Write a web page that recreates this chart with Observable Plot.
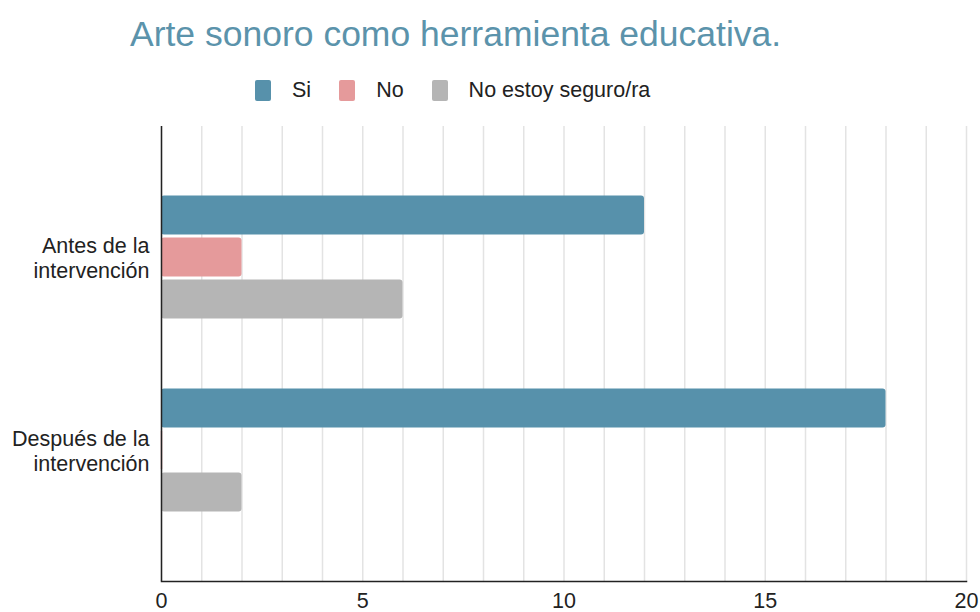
<!DOCTYPE html>
<html>
<head>
<meta charset="utf-8">
<script src="https://cdn.jsdelivr.net/npm/d3@7"></script>
<script src="https://cdn.jsdelivr.net/npm/@observablehq/plot@0.6"></script>
<style>
  html, body { margin: 0; padding: 0; background: #fff; }
  #wrap { position: relative; width: 980px; height: 612px; overflow: hidden; font-family: "Liberation Sans", Arial, sans-serif; }
  #title { position: absolute; left: 130px; top: 12px; font-size: 35.5px; line-height: 44px; color: #5b93ab; white-space: nowrap; }
  #legend { position: absolute; left: 255px; top: 76px; height: 28px; display: flex; align-items: center; font-size: 21.5px; color: #222; white-space: nowrap; }
  .sw { display: inline-block; width: 16px; height: 21px; border-radius: 2px; margin-right: 21px; }
  .it { display: flex; align-items: center; margin-right: 28px; }
  #chart { position: absolute; left: 0; top: 0; }
  #chart svg text { font-family: "Liberation Sans", Arial, sans-serif !important; font-size: 21.5px !important; fill: #222; }
</style>
</head>
<body>
<div id="wrap">
  <div id="chart"></div>
  <div id="title"></div>
  <div id="legend"></div>
</div>
<script>
const titleText = "Arte sonoro como herramienta educativa.";
const groups = ["Antes de la intervención", "Después de la intervención"];
const groupLabels = ["Antes de la\nintervención", "Después de la\nintervención"];
const seriesNames = ["Si", "No", "No estoy seguro/ra"];
const seriesColors = ["#5791ab", "#e59a9b", "#b5b5b5"];
const valuesSi = [12, 18];
const valuesNo = [2, 0];
const valuesNoSeguro = [6, 2];
const xTicks = [0, 5, 10, 15, 20];
const xGrid = d3.range(0, 21, 1);

const seriesValues = [valuesSi, valuesNo, valuesNoSeguro];
const rows = [];
seriesNames.forEach((s, i) => groups.forEach((g, j) => rows.push({group: g, series: s, value: seriesValues[i][j]})));

document.getElementById("title").textContent = titleText;
const legend = document.getElementById("legend");
seriesNames.forEach((s, i) => {
  const it = document.createElement("span");
  it.className = "it";
  const sw = document.createElement("span");
  sw.className = "sw";
  sw.style.background = seriesColors[i];
  it.appendChild(sw);
  it.appendChild(document.createTextNode(s));
  legend.appendChild(it);
});

const offsets = [-42, 0, 42];
const labelOf = new Map(groups.map((g, i) => [g, groupLabels[i]]));

const plot = Plot.plot({
  width: 980,
  height: 612,
  marginTop: 126,
  marginBottom: 31,
  marginLeft: 161,
  marginRight: 14,
  style: {fontFamily: "'Liberation Sans', Arial, sans-serif", fontSize: "21.5px", color: "#222", background: "transparent"},
  x: {domain: [0, 20], ticks: xTicks},
  y: {domain: groups, paddingInner: 0.793, paddingOuter: 0.5725},
  marks: [
    Plot.ruleX(xGrid, {stroke: "#e3e3e3", strokeWidth: 1.5}),
    ...seriesNames.map((s, i) => Plot.barX(rows.filter(d => d.series === s), {
      x: "value", y: "group", fill: seriesColors[i], dy: offsets[i], insetTop: 0.5, insetBottom: 0.5, rx: 3
    })),
    Plot.tickX(rows.filter(d => d.value === 0), {x: "value", y: "group", stroke: d => seriesColors[seriesNames.indexOf(d.series)], dy: 0, strokeWidth: 1.5, insetTop: 1, insetBottom: 1}),
    Plot.ruleX([0], {stroke: "#222", strokeWidth: 1.5}),
    Plot.frame({anchor: "bottom", stroke: "#222", strokeWidth: 1.5}),
    Plot.axisX({ticks: xTicks, tickSize: 0, tickPadding: 11, label: null}),
    Plot.axisY({tickSize: 0, tickPadding: 12, label: null, tickFormat: g => labelOf.get(g), lineHeight: 1.17})
  ]
});
document.getElementById("chart").appendChild(plot);
</script>
</body>
</html>
